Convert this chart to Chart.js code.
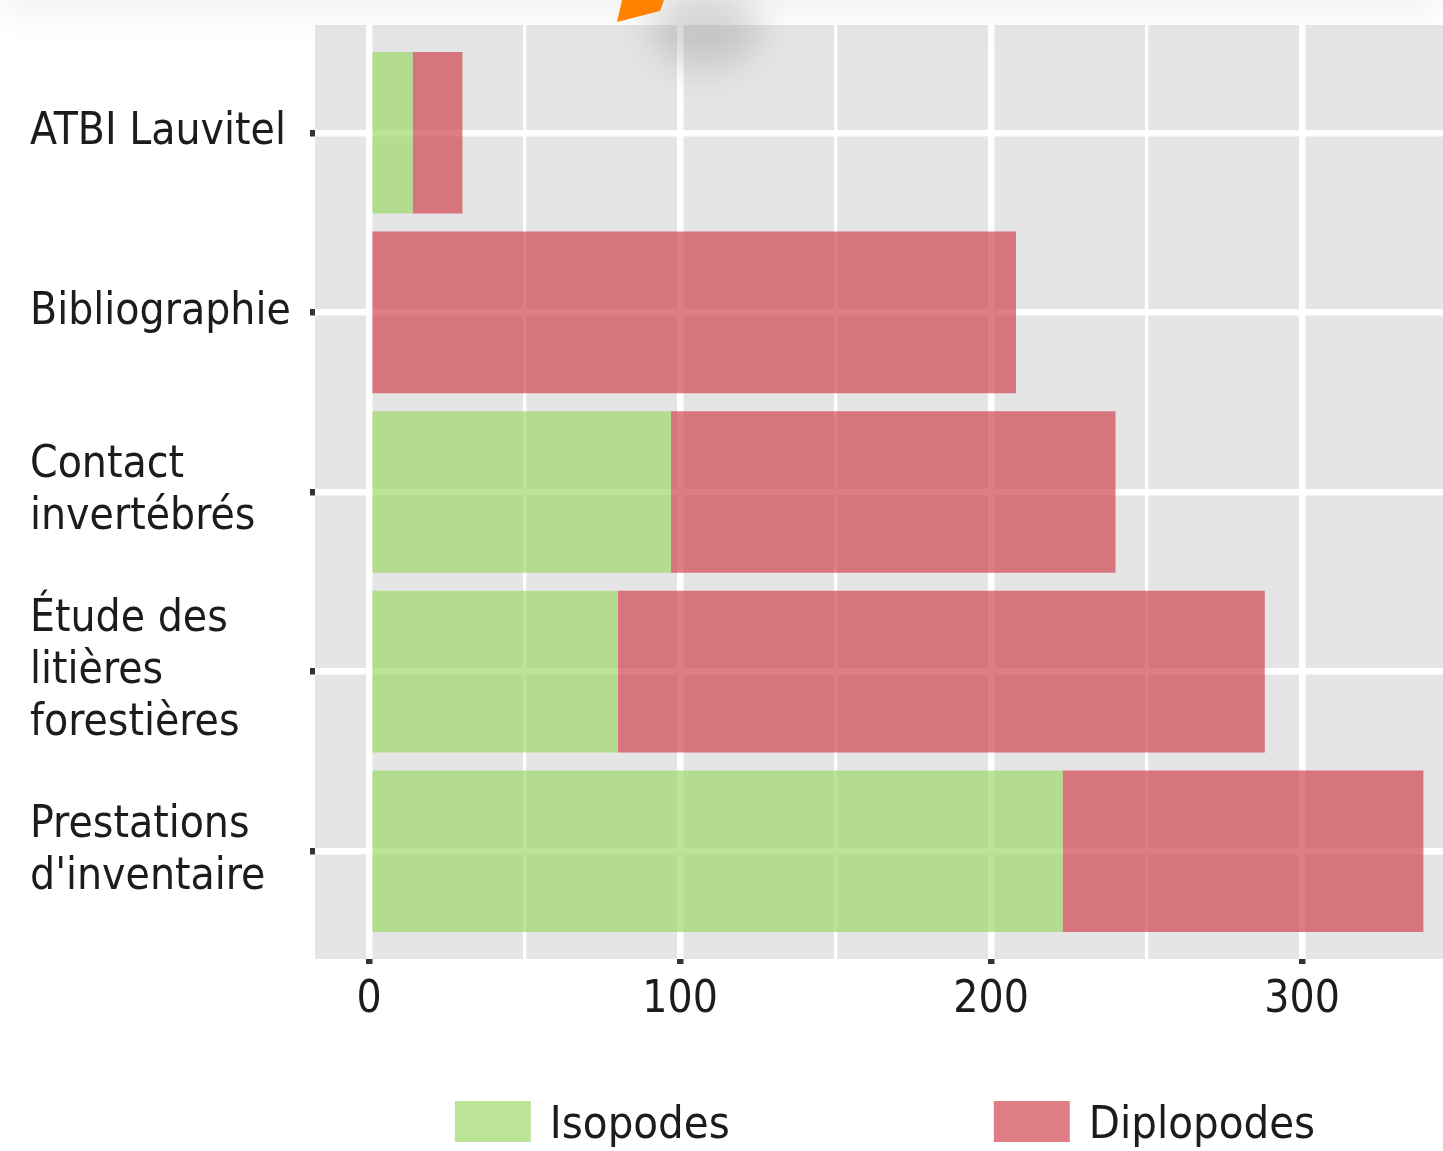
<!DOCTYPE html>
<html>
<head>
<meta charset="utf-8">
<script src="https://cdn.jsdelivr.net/npm/chart.js@4"></script>
<style>
  html, body { margin: 0; padding: 0; background: #fff; overflow: hidden; }
  canvas { display: block; }
</style>
</head>
<body>
<canvas id="graf" width="1443" height="1151"></canvas>
<script>
// donnees
var categories = ["ATBI Lauvitel", "Bibliographie", "Contact\ninvertébrés", "Étude des\nlitières\nforestières", "Prestations\nd'inventaire"]
var isopodes = [14, 0, 97, 80, 223]
var diplopodes = [16, 208, 143, 208, 116]
var seriesNames = ["Isopodes", "Diplopodes"]
var majorTicks = [0, 100, 200, 300]
var xTickLabels = ["0", "100", "200", "300"]
var minorTicks = [50, 150, 250]

var police = '"DejaVu Sans Condensed", "DejaVu Sans", sans-serif'
var couleurTexte = "#1c1c1c"

// fond gris du panneau + fond blanc
const fondPanneau = {
    id: "fondPanneau",
    beforeDraw(chart) {
        const ctx = chart.ctx
        const a = chart.chartArea
        ctx.save()
        ctx.fillStyle = "#fff"
        ctx.fillRect(0, 0, chart.width, chart.height)
        ctx.fillStyle = "#e5e5e5"
        ctx.fillRect(a.left, a.top, a.right - a.left, a.bottom - a.top)
        ctx.restore()
    }
}

// legende facon ggplot en bas
const legendeBas = {
    id: "legendeBas",
    afterDraw(chart) {
        const ctx = chart.ctx
        const sets = chart.data.datasets
        ctx.save()
        ctx.font = "45px " + police
        const boxW = 76, boxH = 41, gap = 19, espace = 264
        const largeurs = sets.map(d => boxW + gap + ctx.measureText(d.label).width)
        const total = largeurs.reduce((s, v) => s + v, 0) + espace * (sets.length - 1)
        let x = 885 - total / 2
        const y = 1101
        sets.forEach((d, i) => {
            ctx.fillStyle = d.backgroundColor
            ctx.fillRect(x, y, boxW, boxH)
            ctx.fillStyle = couleurTexte
            ctx.textBaseline = "alphabetic"
            ctx.fillText(d.label, x + boxW + gap, y + 37)
            x += largeurs[i] + espace
        })
        ctx.restore()
    }
}

// bout de capture en haut (ombre + forme orange)
const decor = {
    id: "decor",
    afterDraw(chart) {
        const ctx = chart.ctx
        ctx.save()
        ctx.filter = "blur(18px)"
        ctx.fillStyle = "rgba(150,150,150,0.4)"
        ctx.beginPath()
        ctx.ellipse(705, 30, 55, 38, 0, 0, Math.PI * 2)
        ctx.fill()
        ctx.fillStyle = "rgba(205,205,205,0.3)"
        ctx.fillRect(0, -30, 1443, 40)
        ctx.filter = "none"
        ctx.fillStyle = "#ff8200"
        ctx.beginPath()
        ctx.moveTo(617, 22)
        ctx.lineTo(622, 0)
        ctx.lineTo(664, 0)
        ctx.lineTo(660, 11)
        ctx.closePath()
        ctx.fill()
        ctx.restore()
    }
}

function plotarGrafico() {
    const ctx = document.getElementById("graf")

    new Chart(ctx, {
        type: "bar",
        data: {
            datasets: [{
                label: seriesNames[0],
                data: isopodes.map((v, i) => ({ x: v, y: i })),
                backgroundColor: "rgba(160,216,105,0.7)",
                borderWidth: 0
            }, {
                label: seriesNames[1],
                data: diplopodes.map((v, i) => ({ x: v, y: i })),
                backgroundColor: "rgba(210,70,80,0.7)",
                borderWidth: 0
            }]
        },
        options: {
            indexAxis: "y",
            responsive: false,
            animation: false,
            devicePixelRatio: 1,
            categoryPercentage: 1,
            barPercentage: 0.9,
            layout: { padding: { left: 30, top: 25, right: 0, bottom: 112 } },
            plugins: {
                legend: { display: false },
                tooltip: { enabled: false }
            },
            scales: {
                x: {
                    type: "linear",
                    stacked: true,
                    min: -17.4,
                    max: 345.3,
                    afterBuildTicks: s => {
                        s.ticks = majorTicks.concat(minorTicks).sort((a, b) => a - b).map(v => ({ value: v }))
                    },
                    afterFit: s => {
                        s.height = 80
                        s.paddingLeft = 0
                        s.paddingRight = 0
                    },
                    border: { display: false },
                    grid: {
                        color: "#ffffff",
                        lineWidth: c => majorTicks.includes(c.tick.value) ? 6.5 : 3.3,
                        drawTicks: true,
                        tickLength: 5,
                        tickWidth: 6.5,
                        tickColor: c => majorTicks.includes(c.tick.value) ? "#333333" : "rgba(0,0,0,0)"
                    },
                    ticks: {
                        autoSkip: false,
                        maxRotation: 0,
                        padding: 10,
                        color: couleurTexte,
                        font: { family: police, size: 44, lineHeight: 1.2 },
                        callback: v => majorTicks.includes(v) ? xTickLabels[majorTicks.indexOf(v)] : ""
                    }
                },
                y: {
                    type: "linear",
                    stacked: true,
                    reverse: true,
                    offset: false,
                    min: -0.6,
                    max: 4.6,
                    afterBuildTicks: s => {
                        s.ticks = categories.map((c, i) => ({ value: i }))
                    },
                    afterFit: s => {
                        s.width = 285
                        s.paddingTop = 0
                        s.paddingBottom = 0
                    },
                    border: { display: false },
                    grid: {
                        offset: false,
                        color: "#ffffff",
                        lineWidth: 6.5,
                        drawTicks: true,
                        tickLength: 5,
                        tickWidth: 6.5,
                        tickColor: "#333333"
                    },
                    ticks: {
                        autoSkip: false,
                        crossAlign: "far",
                        padding: 18,
                        color: couleurTexte,
                        font: { family: police, size: 44, lineHeight: 1.18 },
                        callback: v => categories[v] !== undefined ? categories[v].split("\n") : ""
                    }
                }
            }
        },
        plugins: [fondPanneau, legendeBas, decor]
    })
}

plotarGrafico()
</script>
</body>
</html>
